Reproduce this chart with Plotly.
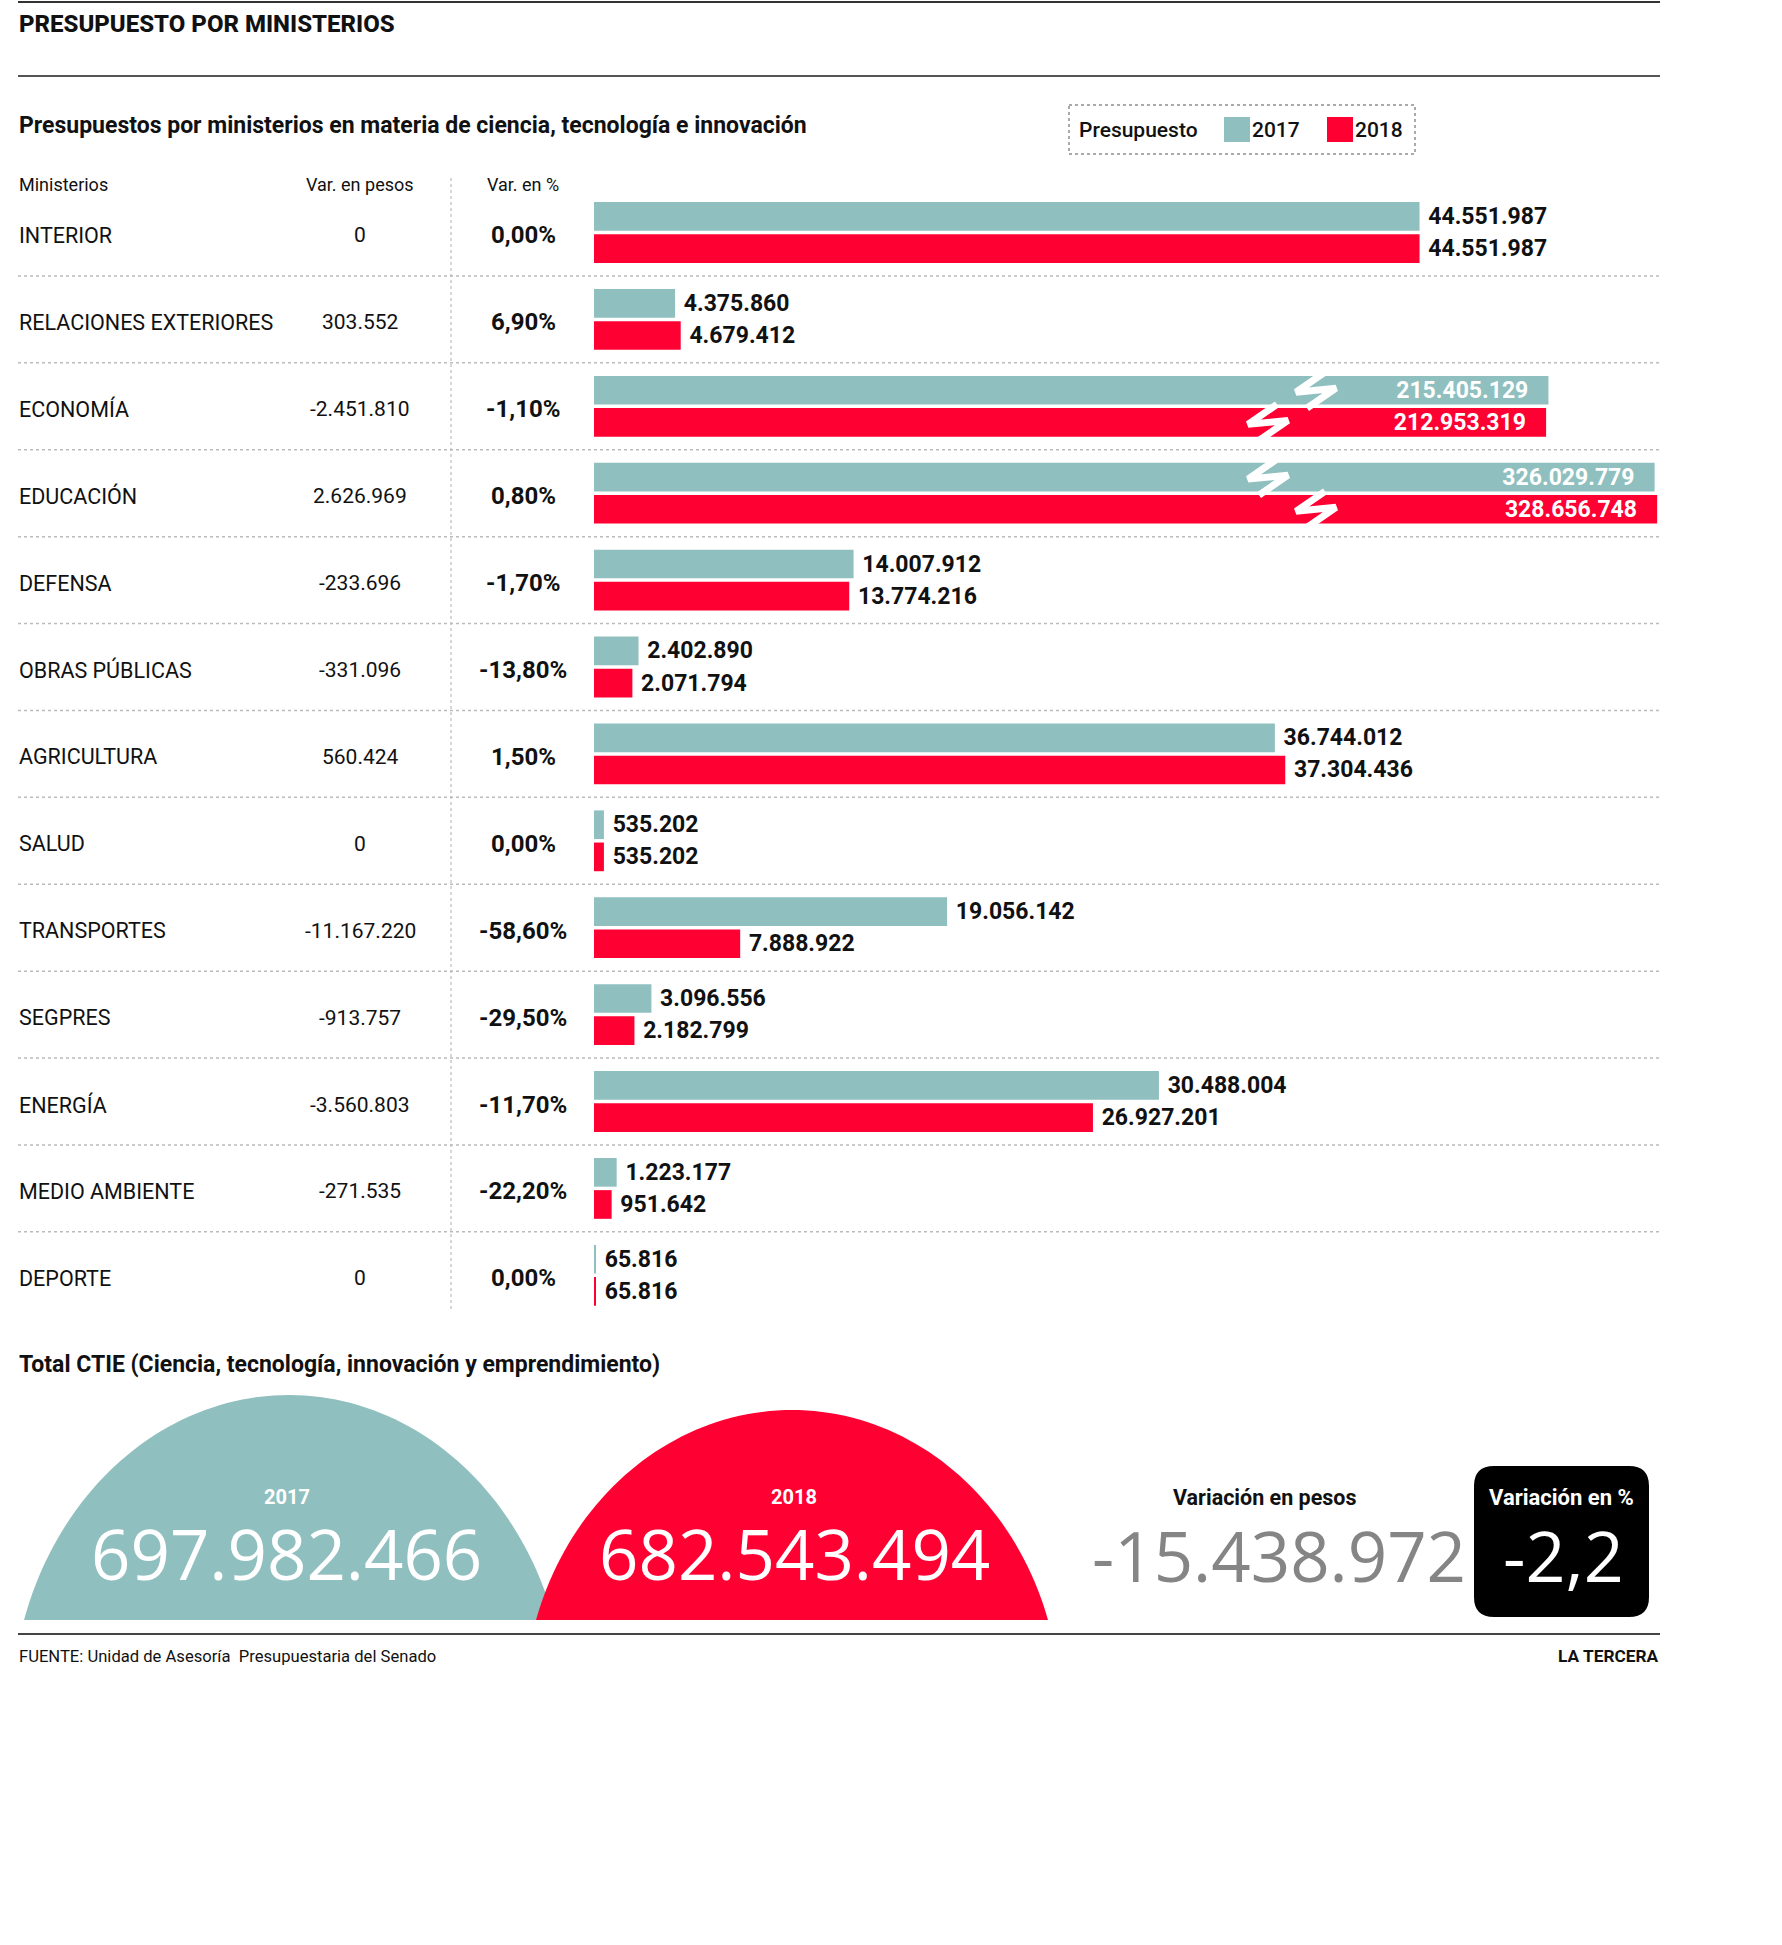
import math
import plotly.graph_objects as go

W, H = 1782, 1945

# ---------------- data ----------------
ministerios = ["INTERIOR", "RELACIONES EXTERIORES", "ECONOMÍA", "EDUCACIÓN", "DEFENSA",
               "OBRAS PÚBLICAS", "AGRICULTURA", "SALUD", "TRANSPORTES", "SEGPRES",
               "ENERGÍA", "MEDIO AMBIENTE", "DEPORTE"]
var_pesos = [0, 303552, -2451810, 2626969, -233696, -331096, 560424, 0,
             -11167220, -913757, -3560803, -271535, 0]
var_pct = [0.00, 6.90, -1.10, 0.80, -1.70, -13.80, 1.50, 0.00,
           -58.60, -29.50, -11.70, -22.20, 0.00]
presupuesto_2017 = [44551987, 4375860, 215405129, 326029779, 14007912, 2402890,
                    36744012, 535202, 19056142, 3096556, 30488004, 1223177, 65816]
presupuesto_2018 = [44551987, 4679412, 212953319, 328656748, 13774216, 2071794,
                    37304436, 535202, 7888922, 2182799, 26927201, 951642, 65816]
total_2017 = 697982466
total_2018 = 682543494
variacion_pesos = -15438972
variacion_pct = -2.2

TEAL = "#8fbfbe"
RED = "#ff0033"
FONT = "Roboto"
BIG = "Open Sans"


def fmt_int(v):
    s = f"{abs(int(v)):,}".replace(",", ".")
    return ("-" if v < 0 else "") + s


def fmt_pct(v):
    return f"{v:.2f}".replace(".", ",") + "%"


BREAK = 100e6  # broken axis for very large values


def axis_scale(v):
    return v if v <= BREAK else 40.35e6 + 0.0518 * v


def X(px):
    return px / W


def Y(py):
    return 1 - py / H


ROW0, PITCH = 232.5, 86.9
BAR_X0, BAR_X1 = 594, 1660
PX_PER_UNIT = 18.53e-6


def row_y(i):
    return ROW0 + PITCH * i


fig = go.Figure()

n = len(ministerios)
rows = list(range(n))

for vals, color, off in [(presupuesto_2017, TEAL, -0.35), (presupuesto_2018, RED, 0.02)]:
    positions = ["inside" if v > BREAK else "outside" for v in vals]
    texts = [(fmt_int(v) + "\u00a0\u00a0\u00a0") if v > BREAK else ("\u00a0" + fmt_int(v)) for v in vals]
    fig.add_trace(go.Bar(
        orientation="h", y=rows, x=[axis_scale(v) for v in vals],
        offset=off, width=0.33, marker=dict(color=color, line=dict(width=0)),
        text=texts, textposition=positions, insidetextanchor="end",
        constraintext="none", cliponaxis=False,
        insidetextfont=dict(family=FONT, size=23, color="white", weight=700),
        outsidetextfont=dict(family=FONT, size=23, color="#111", weight=700),
        hoverinfo="skip", showlegend=False,
    ))

fig.update_layout(
    width=W, height=H, margin=dict(l=0, r=0, t=0, b=0),
    paper_bgcolor="white", plot_bgcolor="rgba(0,0,0,0)",
    barmode="overlay", showlegend=False,
    xaxis=dict(domain=[X(BAR_X0), X(BAR_X1)], range=[0, (BAR_X1 - BAR_X0) / PX_PER_UNIT],
               visible=False, fixedrange=True),
    yaxis=dict(domain=[0, 1], range=[(H - ROW0) / PITCH, -ROW0 / PITCH],
               visible=False, fixedrange=True),
)

ann = []


def txt(text, x, y, size, color="#111", weight=400, family=FONT, xanchor="left", yanchor="middle"):
    ann.append(dict(text=text, x=X(x), y=Y(y), xref="paper", yref="paper", showarrow=False,
                    xanchor=xanchor, yanchor=yanchor,
                    font=dict(family=family, size=size, color=color, weight=weight)))


shapes = []


def hline(y, x0, x1, color, width, dash="solid"):
    shapes.append(dict(type="line", xref="paper", yref="paper", x0=X(x0), x1=X(x1), y0=Y(y), y1=Y(y),
                       line=dict(color=color, width=width, dash=dash)))


# header
hline(2, 18, 1660, "#333", 2)
txt("PRESUPUESTO POR MINISTERIOS", 17, 24, 24, weight=800)
hline(76, 18, 1660, "#555", 2)
txt("Presupuestos por ministerios en materia de ciencia, tecnología e innovación", 17, 126, 23, weight=700)

# legend box
shapes.append(dict(type="rect", xref="paper", yref="paper", x0=X(1069), x1=X(1415), y0=Y(105), y1=Y(154),
                   line=dict(color="#555", width=1, dash="dot")))
txt("Presupuesto", 1077, 130, 21, weight=500)
shapes.append(dict(type="rect", xref="paper", yref="paper", x0=X(1224), x1=X(1250), y0=Y(117), y1=Y(142),
                   fillcolor=TEAL, line=dict(width=0)))
txt("2017", 1250, 130, 21, weight=500)
shapes.append(dict(type="rect", xref="paper", yref="paper", x0=X(1327), x1=X(1353), y0=Y(117), y1=Y(142),
                   fillcolor=RED, line=dict(width=0)))
txt("2018", 1353, 130, 21, weight=500)

# column headers
txt("Ministerios", 17, 184, 18)
txt("Var. en pesos", 360, 184, 18, xanchor="center")
txt("Var. en %", 523, 184, 18, xanchor="center")

# vertical divider
shapes.append(dict(type="line", xref="paper", yref="paper", x0=X(451), x1=X(451), y0=Y(178), y1=Y(1312),
                   line=dict(color="#bbb", width=1.2, dash="dot")))

for i in rows:
    y = row_y(i)
    txt(ministerios[i], 17, y + 3, 21.5)
    txt(fmt_int(var_pesos[i]), 360, y + 3, 21, xanchor="center")
    txt(fmt_pct(var_pct[i]), 523, y + 3, 24, weight=700, xanchor="center")
    if i < n - 1:
        hline(y + PITCH / 2, 18, 1660, "#bbb", 1.5, dash="dot")

# axis-break marks
breaks = [(2, 0, 1316), (2, 1, 1268), (3, 0, 1268), (3, 1, 1316)]
for i, k, cx in breaks:
    cy = row_y(i) + PITCH * (-0.185 if k == 0 else 0.185)
    top, bot = cy - 15, cy + 15
    path = (f"M {X(cx + 9)} {Y(top - 3)} L {X(cx - 20)} {Y(cy + 2)} "
            f"L {X(cx + 20)} {Y(cy - 2)} L {X(cx - 9)} {Y(bot + 3)}")
    shapes.append(dict(type="path", xref="paper", yref="paper", path=path,
                       line=dict(color="white", width=7)))

# totals section
txt("Total CTIE (Ciencia, tecnología, innovación y emprendimiento)", 17, 1364, 23, weight=700)


def dome(cx, base, height, half_w, color, k=0.3, npts=90):
    b = height / (1 - k)
    a = half_w / math.sqrt(1 - k * k)
    cy = base + k * b
    t0 = math.asin(k)
    pts = []
    for j in range(npts + 1):
        t = math.pi - t0 - (math.pi - 2 * t0) * j / npts
        pts.append((cx + a * math.cos(t), cy - b * math.sin(t)))
    d = "M " + " L ".join(f"{X(x)} {Y(y)}" for x, y in pts) + " Z"
    shapes.append(dict(type="path", xref="paper", yref="paper", path=d,
                       fillcolor=color, line=dict(width=0), layer="below"))


dome(289, 1620, 225, 265, TEAL)
dome(792, 1620, 210, 256, RED)

txt("2017", 287, 1497, 20, color="white", weight=700, xanchor="center")
txt(fmt_int(total_2017), 286, 1553, 69, color="white", weight=400, family=BIG, xanchor="center")
txt("2018", 794, 1497, 20, color="white", weight=700, xanchor="center")
txt(fmt_int(total_2018), 794, 1553, 69, color="white", weight=400, family=BIG, xanchor="center")

txt("Variación en pesos", 1265, 1497, 21.5, weight=700, xanchor="center")
txt(fmt_int(variacion_pesos), 1279, 1555, 69, color="#858585", family=BIG, xanchor="center")

# black rounded box
x0, x1, y0, y1, r = 1474, 1649, 1466, 1617, 20
rb = (f"M {X(x0 + r)} {Y(y0)} L {X(x1 - r)} {Y(y0)} Q {X(x1)} {Y(y0)} {X(x1)} {Y(y0 + r)} "
      f"L {X(x1)} {Y(y1 - r)} Q {X(x1)} {Y(y1)} {X(x1 - r)} {Y(y1)} "
      f"L {X(x0 + r)} {Y(y1)} Q {X(x0)} {Y(y1)} {X(x0)} {Y(y1 - r)} "
      f"L {X(x0)} {Y(y0 + r)} Q {X(x0)} {Y(y0)} {X(x0 + r)} {Y(y0)} Z")
shapes.append(dict(type="path", xref="paper", yref="paper", path=rb, fillcolor="black",
                   line=dict(width=0), layer="below"))
txt("Variación en %", 1561, 1497, 22, color="white", weight=700, xanchor="center")
txt(f"{variacion_pct:.1f}".replace(".", ","), 1563, 1555, 70, color="white", family=BIG, xanchor="center")

# footer
hline(1634, 18, 1660, "#444", 2)
txt("FUENTE: Unidad de Asesoría  Presupuestaria del Senado", 17, 1656, 16.6)
txt("LA TERCERA", 1661, 1656, 17.3, weight=700, xanchor="right")

fig.update_layout(annotations=ann, shapes=shapes)
fig.write_html("out.html")
